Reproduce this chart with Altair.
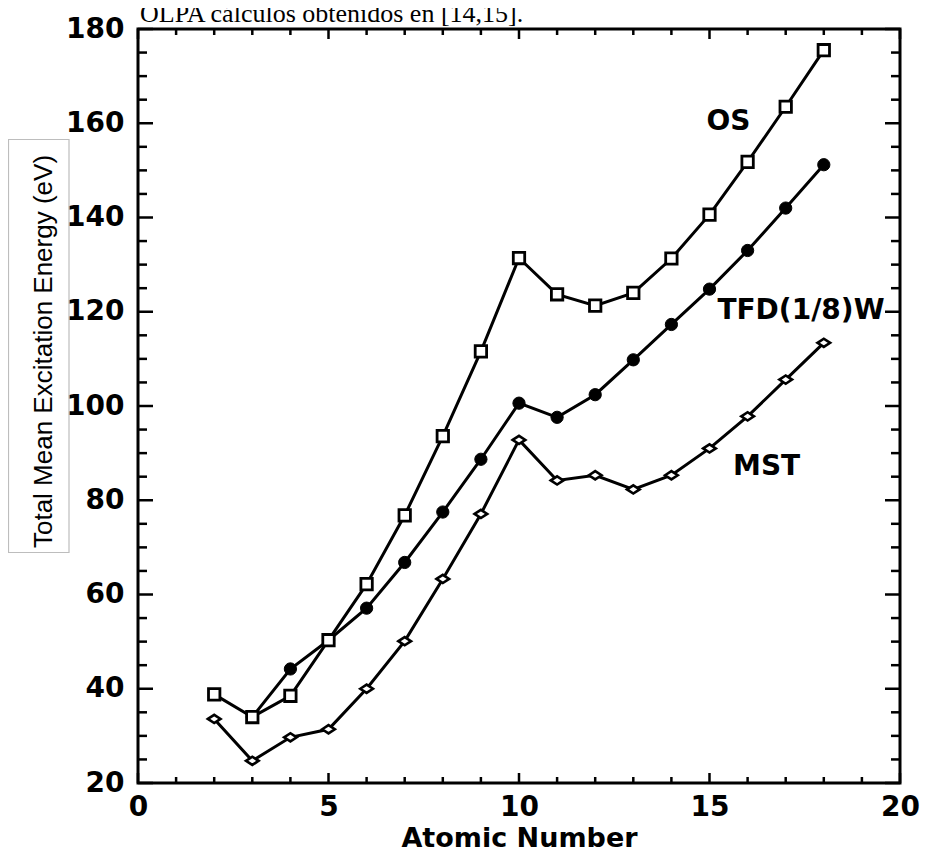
import altair as alt
import pandas as pd

# ---- data ----
Z_OS = list(range(2, 19))
OS = [38.8, 34.0, 38.5, 50.3, 62.2, 76.8, 93.6, 111.6, 131.4, 123.7, 121.3, 124.0, 131.3, 140.6, 151.8, 163.5, 175.5]
Z_TFD = list(range(3, 19))
TFD = [34.0, 44.2, 50.3, 57.1, 66.8, 77.5, 88.7, 100.6, 97.6, 102.4, 109.8, 117.3, 124.8, 133.0, 142.0, 151.2]
Z_MST = list(range(2, 19))
MST = [33.6, 24.7, 29.7, 31.4, 40.0, 50.1, 63.3, 77.1, 92.8, 84.2, 85.3, 82.3, 85.3, 91.0, 97.8, 105.6, 113.4]

label_text = ["OS", "TFD(1/8)W", "MST"]
label_x = [15.5, 17.4, 16.5]
label_y = [160.2, 120.1, 87.1]

x_major = [0, 5, 10, 15, 20]
x_minor = [v for v in range(0, 21) if v % 5 != 0]
y_major = list(range(20, 181, 20))
y_minor = [v for v in range(25, 180, 5) if v % 20 != 0]

top_text = ["OLPA cálculos obtenidos en [14,15]."]
x_title = "Atomic Number"
y_title = "Total Mean Excitation Energy (eV)"

W, H = 762, 754

df_os = pd.DataFrame({"x": Z_OS, "y": OS, "s": "OS"})
df_tfd = pd.DataFrame({"x": Z_TFD, "y": TFD, "s": "TFD"})
df_mst = pd.DataFrame({"x": Z_MST, "y": MST, "s": "MST"})
df_all = pd.concat([df_os, df_tfd, df_mst])

xs = alt.Scale(domain=[0, 20], nice=False, zero=False)
ys = alt.Scale(domain=[20, 180], nice=False, zero=False)

x_axis = alt.Axis(values=x_major, ticks=False, domain=False, grid=False, format="d",
                  labelFont="DejaVu Sans", labelFontWeight="bold", labelFontSize=28,
                  labelColor="black", labelPadding=10, labelFlush=False, labelOverlap=False,
                  title=x_title, titleFont="DejaVu Sans", titleFontWeight="bold",
                  titleFontSize=27, titleColor="black", titlePadding=4)
y_axis = alt.Axis(values=y_major, ticks=False, domain=False, grid=False, format="d",
                  labelFont="DejaVu Sans", labelFontWeight="bold", labelFontSize=28,
                  labelColor="black", labelPadding=14, labelOverlap=False,
                  title=y_title, titleFont="Liberation Sans", titleFontWeight="normal",
                  titleFontSize=26, titleColor="black", titleAngle=270,
                  titleX=-87, titleY=322, titleBaseline="alphabetic", titleAlign="center")

X = alt.X("x:Q", scale=xs, axis=x_axis)
Y = alt.Y("y:Q", scale=ys, axis=y_axis)

lines = alt.Chart(df_all).mark_line(color="black", strokeWidth=3).encode(
    x=X, y=Y, detail="s:N")

pts_os = alt.Chart(df_os).mark_point(shape="square", size=130, filled=True, fill="white",
                                     stroke="black", strokeWidth=2.8, opacity=1).encode(x=X, y=Y)
pts_tfd = alt.Chart(df_tfd).mark_point(shape="circle", size=150, filled=True, fill="black",
                                       stroke="black", strokeWidth=1, opacity=1).encode(x=X, y=Y)
pts_mst = alt.Chart(df_mst).mark_point(shape="M -1 0 L 0 -0.65 L 1 0 L 0 0.65 Z", size=160,
                                       filled=True, fill="white", stroke="black",
                                       strokeWidth=2.6, opacity=1).encode(x=X, y=Y)

df_lab = pd.DataFrame({"x": label_x, "y": label_y, "t": label_text})
labels = alt.Chart(df_lab).mark_text(font="DejaVu Sans", fontWeight="bold", fontSize=28,
                                     color="black", align="center", baseline="middle").encode(
    x=X, y=Y, text="t:N")

# inward tick marks on all four sides
def xticks(vals, length):
    d = pd.DataFrame({"x": vals})
    bot = alt.Chart(d).mark_rule(color="black", strokeWidth=2.5).encode(
        x=X, y=alt.value(H), y2=alt.value(H - length))
    top = alt.Chart(d).mark_rule(color="black", strokeWidth=2.5).encode(
        x=X, y=alt.value(0), y2=alt.value(length))
    return [bot, top]

def yticks(vals, length):
    d = pd.DataFrame({"y": vals})
    left = alt.Chart(d).mark_rule(color="black", strokeWidth=2.5).encode(
        y=Y, x=alt.value(0), x2=alt.value(length))
    right = alt.Chart(d).mark_rule(color="black", strokeWidth=2.5).encode(
        y=Y, x=alt.value(W), x2=alt.value(W - length))
    return [left, right]

ticks = xticks(x_major, 10) + xticks(x_minor, 6) + yticks(y_major, 15) + yticks(y_minor, 9)

box = alt.Chart(pd.DataFrame({"a": [0]})).mark_rect(fill="white", fillOpacity=0,
                                                     stroke="#bdbdbd", strokeWidth=1.2).encode(
    x=alt.value(-129.5), x2=alt.value(-69), y=alt.value(110.5), y2=alt.value(523.5))

head = alt.Chart(pd.DataFrame({"t": top_text})).mark_text(
    font="Liberation Serif", fontSize=26, color="black", align="left",
    baseline="alphabetic").encode(x=alt.value(2), y=alt.value(-7), text="t:N")

chart = alt.layer(box, lines, *ticks, pts_tfd, pts_mst, pts_os, labels, head).properties(
    width=W, height=H,
    autosize=alt.AutoSizeParams(type="none"),
    padding={"left": 130, "top": 21, "right": 20, "bottom": 76},
    background="white",
).configure_view(stroke="black", strokeWidth=3)

chart.save("out.html", embed_options={"renderer": "svg", "actions": False})
